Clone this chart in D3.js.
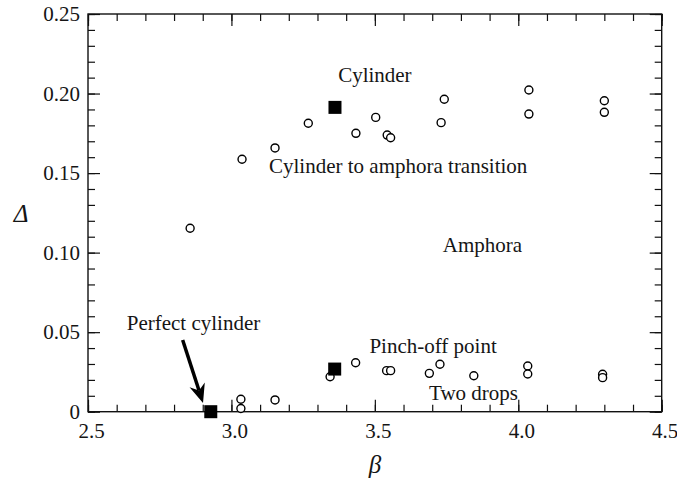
<!DOCTYPE html>
<html>
<head>
<meta charset="utf-8">
<script src="https://cdn.jsdelivr.net/npm/d3@7"></script>
<style>
  body { margin: 0; background: #fff; }
  text { font-family: "Liberation Serif", "Times New Roman", serif; fill: #151515; }
</style>
</head>
<body>
<svg id="chart" width="677" height="479"></svg>
<script type="text/javascript">
    // axis ticks
    var betaTicks = [2.5, 3.0, 3.5, 4.0, 4.5];
    var betaTickLabels = ["2.5", "3.0", "3.5", "4.0", "4.5"];
    var deltaTicks = [0, 0.05, 0.10, 0.15, 0.20, 0.25];
    var deltaTickLabels = ["0", "0.05", "0.10", "0.15", "0.20", "0.25"];

    // open circles
    var circleBeta = [2.856, 3.037, 3.152, 3.268, 3.434, 3.503, 3.543, 3.555, 3.731, 3.742, 4.037, 4.037, 4.300, 4.300,
                      3.033, 3.033, 3.152, 3.344, 3.433, 3.541, 3.555, 3.690, 3.727, 3.845, 4.033, 4.033, 4.294, 4.294];
    var circleDelta = [0.1153, 0.1587, 0.1658, 0.1813, 0.1750, 0.1850, 0.1739, 0.1722, 0.1817, 0.1964, 0.2022, 0.1871, 0.1955, 0.1882,
                       0.0078, 0.0020, 0.0074, 0.0220, 0.0308, 0.0258, 0.0258, 0.0241, 0.0298, 0.0226, 0.0287, 0.0237, 0.0235, 0.0214];

    // filled squares
    var squareBeta = [2.928, 3.361, 3.360];
    var squareDelta = [0.0, 0.1913, 0.0268];

    // annotations (left edge, baseline)
    var labelText = ["Cylinder", "Cylinder to amphora transition", "Amphora", "Pinch-off point", "Two drops", "Perfect cylinder"];
    var labelBeta = [3.372, 3.131, 3.737, 3.481, 3.689, 2.635];
    var labelDelta = [0.2073, 0.1499, 0.1006, 0.0367, 0.0074, 0.0514];

    var arrowFrom = [2.830, 0.0451];
    var arrowTo = [2.901, 0.0055];

    var serif = '"Liberation Serif", "Times New Roman", serif';
    var svg = d3.select("#chart");
    var x = d3.scaleLinear().domain([2.5, 4.5]).range([88, 661.7]);
    var y = d3.scaleLinear().domain([0, 0.25]).range([411.7, 14]);

    var minorX = d3.range(25, 46).map(function(d) { return d / 10; });
    var minorY = d3.range(0, 26).map(function(d) { return d / 100; });

    function clean(g) {
        g.attr("font-family", null).attr("font-size", null);
        g.select(".domain").remove();
        g.selectAll(".tick line").attr("stroke", "#111").attr("stroke-width", 1.2);
        g.selectAll(".tick text")
            .style("font-family", serif)
            .style("font-size", "21px")
            .attr("fill", "#151515");
    }

    // bottom
    svg.append("g").attr("transform", "translate(0," + y(0) + ")")
        .call(d3.axisBottom(x).tickValues(minorX).tickSize(-7).tickFormat("")).call(clean);
    svg.append("g").attr("transform", "translate(0," + y(0) + ")")
        .call(d3.axisBottom(x).tickValues(betaTicks).tickSize(-12).tickPadding(11.5)
            .tickFormat(function(d, i) { return betaTickLabels[i]; }))
        .call(clean)
        .selectAll(".tick text").attr("dx", 3);
    // top
    svg.append("g").attr("transform", "translate(0," + y(0.25) + ")")
        .call(d3.axisTop(x).tickValues(minorX).tickSize(-7).tickFormat("")).call(clean);
    svg.append("g").attr("transform", "translate(0," + y(0.25) + ")")
        .call(d3.axisTop(x).tickValues(betaTicks).tickSize(-12).tickFormat("")).call(clean);
    // left
    svg.append("g").attr("transform", "translate(" + x(2.5) + ",0)")
        .call(d3.axisLeft(y).tickValues(minorY).tickSize(-7).tickFormat("")).call(clean);
    svg.append("g").attr("transform", "translate(" + x(2.5) + ",0)")
        .call(d3.axisLeft(y).tickValues(deltaTicks).tickSize(-12).tickPadding(8)
            .tickFormat(function(d, i) { return deltaTickLabels[i]; }))
        .call(clean);
    // right
    svg.append("g").attr("transform", "translate(" + x(4.5) + ",0)")
        .call(d3.axisRight(y).tickValues(minorY).tickSize(-7).tickFormat("")).call(clean);
    svg.append("g").attr("transform", "translate(" + x(4.5) + ",0)")
        .call(d3.axisRight(y).tickValues(deltaTicks).tickSize(-12).tickFormat("")).call(clean);

    // frame
    svg.append("rect")
        .attr("x", x(2.5)).attr("y", y(0.25))
        .attr("width", x(4.5) - x(2.5)).attr("height", y(0) - y(0.25))
        .attr("fill", "none").attr("stroke", "#111").attr("stroke-width", 1.4);

    // circles
    svg.append("g").selectAll("circle")
        .data(d3.range(circleBeta.length))
        .enter().append("circle")
        .attr("cx", function(i) { return x(circleBeta[i]); })
        .attr("cy", function(i) { return y(circleDelta[i]); })
        .attr("r", 4)
        .attr("fill", "#fff")
        .attr("stroke", "#000")
        .attr("stroke-width", 1.4);

    // squares
    var sq = 13;
    svg.append("g").selectAll("rect")
        .data(d3.range(squareBeta.length))
        .enter().append("rect")
        .attr("x", function(i) { return x(squareBeta[i]) - sq / 2; })
        .attr("y", function(i) { return y(squareDelta[i]) - sq / 2; })
        .attr("width", sq).attr("height", sq)
        .attr("fill", "#000");

    // annotations
    svg.append("g").selectAll("text")
        .data(labelText)
        .enter().append("text")
        .attr("x", function(d, i) { return x(labelBeta[i]); })
        .attr("y", function(d, i) { return y(labelDelta[i]); })
        .style("font-family", serif)
        .style("font-size", "21px")
        .text(function(d) { return d; });

    // arrow
    var x0 = x(arrowFrom[0]), y0 = y(arrowFrom[1]);
    var x1 = x(arrowTo[0]), y1 = y(arrowTo[1]);
    var ang = Math.atan2(y1 - y0, x1 - x0);
    var headLen = 19, headHalf = 8, notch = 6;
    function pt(len, off) {
        return [x1 - len * Math.cos(ang) - off * Math.sin(ang),
                y1 - len * Math.sin(ang) + off * Math.cos(ang)];
    }
    svg.append("line")
        .attr("x1", x0).attr("y1", y0)
        .attr("x2", pt(headLen - notch, 0)[0]).attr("y2", pt(headLen - notch, 0)[1])
        .attr("stroke", "#000").attr("stroke-width", 3.5);
    svg.append("path")
        .attr("d", d3.line()([[x1, y1], pt(headLen, headHalf), pt(headLen - notch, 0), pt(headLen, -headHalf)]) + "Z")
        .attr("fill", "#000");

    // axis titles
    svg.append("text")
        .attr("x", 21).attr("y", 222)
        .attr("text-anchor", "middle")
        .style("font-family", serif)
        .style("font-size", "25px").style("font-style", "italic")
        .text("Δ");
    svg.append("text")
        .attr("x", 375).attr("y", 473)
        .attr("text-anchor", "middle")
        .style("font-family", serif)
        .style("font-size", "25px").style("font-style", "italic")
        .text("β");
</script>
</body>
</html>
